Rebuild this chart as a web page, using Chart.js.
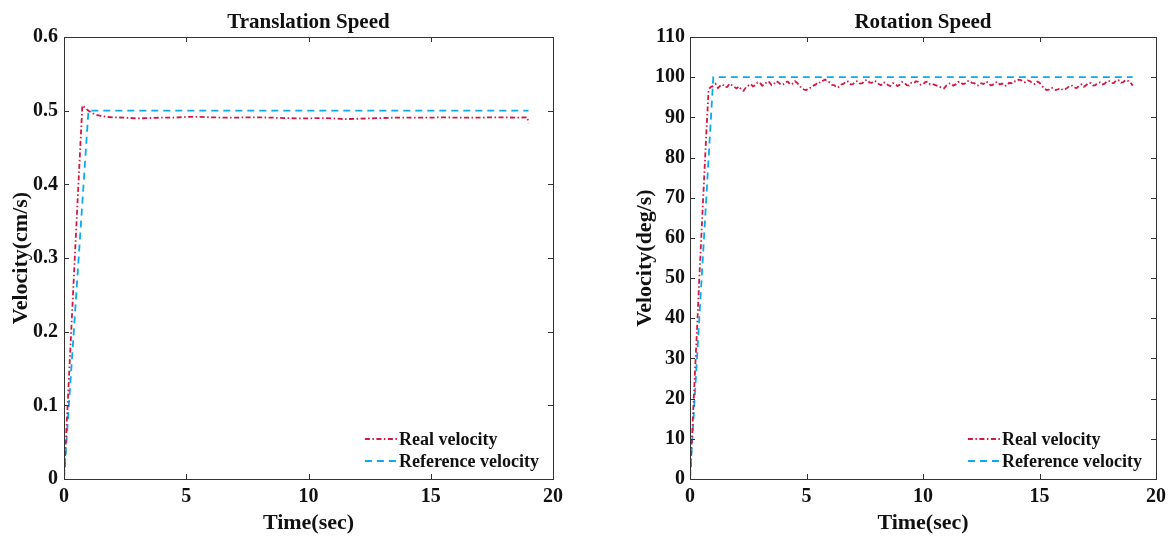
<!DOCTYPE html>
<html>
<head>
<meta charset="utf-8">
<script src="https://cdn.jsdelivr.net/npm/chart.js@4/dist/chart.umd.min.js"></script>
<style>
  body { margin: 0; background: #fff; }
  #wrap { position: relative; width: 1172px; height: 537px; }
  canvas { position: absolute; top: 0; }
</style>
</head>
<body>
<div id="wrap">
  <canvas id="trans" width="586" height="537" style="left:0"></canvas>
  <canvas id="rot" width="552" height="537" style="left:620px"></canvas>
</div>
<script>
// translation speed (cm/s)
const transRealTime = [0, 0.25, 0.5, 0.75, 1.0, 1.25, 1.5, 1.75, 2, 2.5, 3, 3.5, 4, 4.5, 5, 5.5, 6, 6.5, 7, 7.5, 8, 8.5, 9, 9.5, 10,
  10.5, 11, 11.5, 12, 12.5, 13, 13.5, 14, 14.5, 15, 15.5, 16, 16.5, 17, 17.5, 18, 18.5, 18.95, 19];
const transRealVel = [0, 0.17, 0.34, 0.507, 0.5, 0.495, 0.493, 0.4915, 0.491, 0.4905, 0.4895, 0.49, 0.4905, 0.4905, 0.4915, 0.4915,
  0.491, 0.4905, 0.4905, 0.491, 0.491, 0.4905, 0.49, 0.4895, 0.4895, 0.49, 0.4895, 0.4885, 0.489, 0.4895, 0.49, 0.4905, 0.4905,
  0.4905, 0.4905, 0.491, 0.4905, 0.4905, 0.4905, 0.491, 0.491, 0.4905, 0.491, 0.483];
const transRefTime = [0, 1, 19];
const transRefVel = [0, 0.5, 0.5];

// rotation speed (deg/s), sampled every 0.1 s from 0 to 19 s
const rotSampleStep = 0.1;
const rotRealVel = [
  0, 12, 25, 37, 50, 62, 74, 86, 97, 97.6,
  97.8, 98.3, 97.3, 97.9, 98.2, 97.5, 97.6, 98.4, 98.0, 97.6,
  97.2, 97.7, 96.9, 96.6, 97.5, 97.9, 98.3, 97.7, 98.0, 98.7,
  98.6, 97.9, 98.1, 98.9, 98.8, 98.0, 98.3, 99.0, 98.7, 98.1,
  98.2, 98.8, 98.9, 98.2, 98.4, 99.0, 98.6, 97.9, 97.2, 96.9,
  96.8, 97.3, 97.4, 97.9, 98.2, 98.8, 98.6, 99.1, 99.4, 98.9,
  98.7, 98.1, 98.0, 97.4, 97.6, 98.2, 98.4, 99.0, 98.9, 98.2,
  98.3, 98.9, 99.0, 98.4, 98.5, 99.2, 99.3, 98.7, 98.6, 99.1,
  98.9, 98.3, 98.0, 98.7, 98.6, 98.0, 97.8, 98.5, 98.4, 97.8,
  98.1, 98.8, 98.6, 98.0, 97.9, 98.6, 98.5, 99.0, 98.8, 98.1,
  98.2, 98.8, 98.9, 98.2, 98.3, 98.1, 97.9, 97.6, 97.4, 97.2,
  97.9, 98.4, 98.5, 97.9, 98.2, 98.8, 98.9, 98.3, 98.4, 99.0,
  99.1, 98.6, 98.5, 98.0, 97.9, 98.5, 98.3, 98.9, 98.7, 98.0,
  98.1, 98.7, 98.8, 98.2, 98.4, 97.8, 97.9, 98.6, 98.5, 99.0,
  98.9, 99.4, 99.3, 98.8, 98.7, 99.2, 99.0, 98.4, 98.3, 98.9,
  98.6, 97.8, 97.3, 96.8, 96.9, 97.4, 97.2, 96.8, 97.0, 97.3,
  96.8, 97.0, 97.4, 97.9, 97.9, 97.4, 97.3, 97.9, 98.2, 97.6,
  98.0, 98.6, 98.5, 97.9, 98.0, 98.6, 98.7, 98.2, 98.4, 99.0,
  99.0, 98.5, 98.6, 99.3, 99.2, 98.6, 98.8, 99.3, 99.1, 98.7,
  97.9
];
const rotRefTime = [0, 1, 19];
const rotRefVel = [0, 100, 100];

const xTicks = [0, 5, 10, 15, 20];
const legendLabels = ['Real velocity', 'Reference velocity'];

const RED = '#d7183e';
const BLUE = '#0aaaf0';
const AXIS = '#333';
const FONT = '"Liberation Serif", "Times New Roman", serif';
const realDash = [5, 2.5, 1.5, 2.5];
const refDash = [7, 5];

const toPoints = (xs, ys) => ys.map((y, i) => ({ x: xs[i], y: y }));

// MATLAB-like box, inward ticks and a borderless legend
const boxPlugin = {
  id: 'box',
  afterDraw(chart) {
    const { ctx, chartArea: a, scales } = chart;
    ctx.save();
    ctx.strokeStyle = AXIS;
    ctx.lineWidth = 1;
    ctx.strokeRect(a.left + 0.5, a.top + 0.5, a.right - a.left, a.bottom - a.top);
    ctx.beginPath();
    scales.x.ticks.forEach(t => {
      const px = Math.round(scales.x.getPixelForValue(t.value)) + 0.5;
      ctx.moveTo(px, a.bottom); ctx.lineTo(px, a.bottom - 5);
      ctx.moveTo(px, a.top); ctx.lineTo(px, a.top + 5);
    });
    scales.y.ticks.forEach(t => {
      const py = Math.round(scales.y.getPixelForValue(t.value)) + 0.5;
      ctx.moveTo(a.left, py); ctx.lineTo(a.left + 5, py);
      ctx.moveTo(a.right, py); ctx.lineTo(a.right - 5, py);
    });
    ctx.stroke();

    // legend
    ctx.font = 'bold 18px ' + FONT;
    ctx.textBaseline = 'middle';
    ctx.fillStyle = '#111';
    const w = Math.max(...legendLabels.map(s => ctx.measureText(s).width));
    const tx = a.right - 14 - w;
    const rows = [a.bottom - 40, a.bottom - 18];
    const styles = [[RED, realDash], [BLUE, refDash]];
    legendLabels.forEach((lab, i) => {
      ctx.strokeStyle = styles[i][0];
      ctx.setLineDash(styles[i][1]);
      ctx.lineWidth = 1.8;
      ctx.beginPath();
      ctx.moveTo(tx - 34, rows[i]); ctx.lineTo(tx - 2, rows[i]);
      ctx.stroke();
      ctx.setLineDash([]);
      ctx.fillText(lab, tx, rows[i] + 1);
    });
    ctx.restore();
  }
};

function makeChart(id, title, yTitle, yMax, yStep, real, ref, yWidth, yTitlePad, yTickPad, padRight) {
  return new Chart(document.getElementById(id), {
    type: 'line',
    data: {
      datasets: [
        { label: legendLabels[0], data: real, borderColor: RED, borderWidth: 1.8, borderDash: realDash,
          pointRadius: 0, tension: 0, fill: false },
        { label: legendLabels[1], data: ref, borderColor: BLUE, borderWidth: 1.8, borderDash: refDash,
          pointRadius: 0, tension: 0, fill: false }
      ]
    },
    options: {
      responsive: false,
      animation: false,
      layout: { padding: { left: 0, right: padRight, top: 0, bottom: 0 } },
      plugins: {
        legend: { display: false },
        tooltip: { enabled: false },
        title: {
          display: true, text: title, fullSize: false, color: '#111',
          font: { family: FONT, size: 21, weight: 'bold' },
          padding: { top: 10.4, bottom: 1.4 }
        }
      },
      scales: {
        x: {
          type: 'linear', min: 0, max: 20,
          afterBuildTicks: s => { s.ticks = xTicks.map(v => ({ value: v })); },
          afterFit: s => { s.height = 58; },
          grid: { display: false, drawTicks: false },
          border: { display: false },
          ticks: { color: '#111', padding: 6, maxRotation: 0, font: { family: FONT, size: 20, weight: 'bold' } },
          title: { display: true, text: 'Time(sec)', color: '#111', padding: { top: 0, bottom: 0 },
            font: { family: FONT, size: 22, weight: 'bold' } }
        },
        y: {
          min: 0, max: yMax,
          afterFit: s => { s.width = yWidth; },
          grid: { display: false, drawTicks: false },
          border: { display: false },
          ticks: { stepSize: yStep, color: '#111', padding: yTickPad, font: { family: FONT, size: 20, weight: 'bold' } },
          title: { display: true, text: yTitle, color: '#111', padding: { top: yTitlePad, bottom: 0 },
            font: { family: FONT, size: 22, weight: 'bold' } }
        }
      }
    },
    plugins: [boxPlugin]
  });
}

const rotRealTime = rotRealVel.map((v, i) => +(i * rotSampleStep).toFixed(1));

makeChart('trans', 'Translation Speed', 'Velocity(cm/s)', 0.6, 0.1,
  toPoints(transRealTime, transRealVel), toPoints(transRefTime, transRefVel), 64, 8, 6, 33);
makeChart('rot', 'Rotation Speed', 'Velocity(deg/s)', 110, 10,
  toPoints(rotRealTime, rotRealVel), toPoints(rotRefTime, rotRefVel), 70, 12, 5, 13);
</script>
</body>
</html>
